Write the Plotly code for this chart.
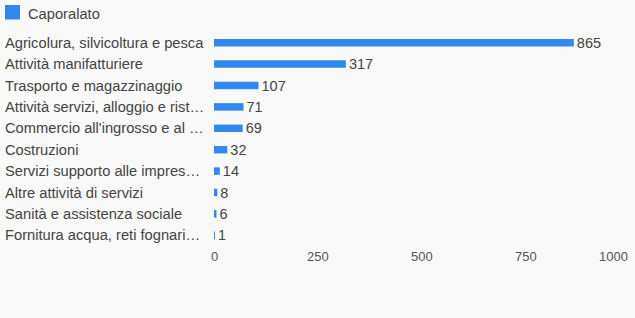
import plotly.graph_objects as go

categories = [
    "Agricolura, silvicoltura e pesca",
    "Attività manifatturiere",
    "Trasporto e magazzinaggio",
    "Attività servizi, alloggio e rist…",
    "Commercio all'ingrosso e al …",
    "Costruzioni",
    "Servizi supporto alle impres…",
    "Altre attività di servizi",
    "Sanità e assistenza sociale",
    "Fornitura acqua, reti fognari…",
]
values = [865, 317, 107, 71, 69, 32, 14, 8, 6, 1]
series_name = "Caporalato"
x_ticks = [0, 250, 500, 750, 1000]

W, H = 635, 318
ML, MR, MT, MB = 0, 5, 32, 72
PW = W - ML - MR
X0 = 214
BAR = "#3388ee"
TXT = "#444444"
FONT = "Liberation Sans, Arial, sans-serif"

fig = go.Figure()
fig.add_trace(go.Bar(
    x=values, y=categories, orientation="h", name=series_name,
    marker=dict(color=BAR, line=dict(width=0)),
    text=[str(v) for v in values], textposition="outside",
    constraintext="none",
    textfont=dict(size=14.5, color=TXT, family=FONT),
    cliponaxis=False, showlegend=False,
))

annotations = []
for c in categories:
    annotations.append(dict(
        x=3 / PW, xref="paper", y=c, yref="y", text=c, showarrow=False,
        xanchor="left", yanchor="middle",
        font=dict(size=14.7, color=TXT, family=FONT),
    ))
for i, t in enumerate(x_ticks):
    annotations.append(dict(
        x=t, xref="x", y=0, yref="paper", yshift=-10, text=str(t),
        showarrow=False, yanchor="middle",
        xanchor="right" if i == len(x_ticks) - 1 else "center",
        font=dict(size=13, color="#555555", family=FONT),
    ))
# legend
annotations.append(dict(
    x=26 / PW, xref="paper", y=1, yref="paper", yshift=(MT - 14), text=series_name,
    showarrow=False, xanchor="left", yanchor="middle",
    font=dict(size=14.7, color=TXT, family=FONT),
))
shapes = [dict(
    type="rect", xref="paper", yref="paper",
    x0=5 / PW, x1=20 / PW,
    y0=1 + (MT - 19.5) / (H - MT - MB), y1=1 + (MT - 5) / (H - MT - MB),
    fillcolor=BAR, line=dict(width=0),
)]

fig.update_layout(
    width=W, height=H,
    margin=dict(l=ML, r=MR, t=MT, b=MB),
    paper_bgcolor="#f9f9f9", plot_bgcolor="#f9f9f9",
    font=dict(family=FONT, color=TXT),
    bargap=0.65,
    showlegend=False,
    xaxis=dict(domain=[X0 / PW, 1], range=[0, 1000], showgrid=False,
               zeroline=False, showticklabels=False, fixedrange=True),
    yaxis=dict(autorange="reversed", showticklabels=False, showgrid=False,
               zeroline=False, fixedrange=True),
    annotations=annotations,
    shapes=shapes,
)

fig.write_html("out.html", config={"displayModeBar": False})
